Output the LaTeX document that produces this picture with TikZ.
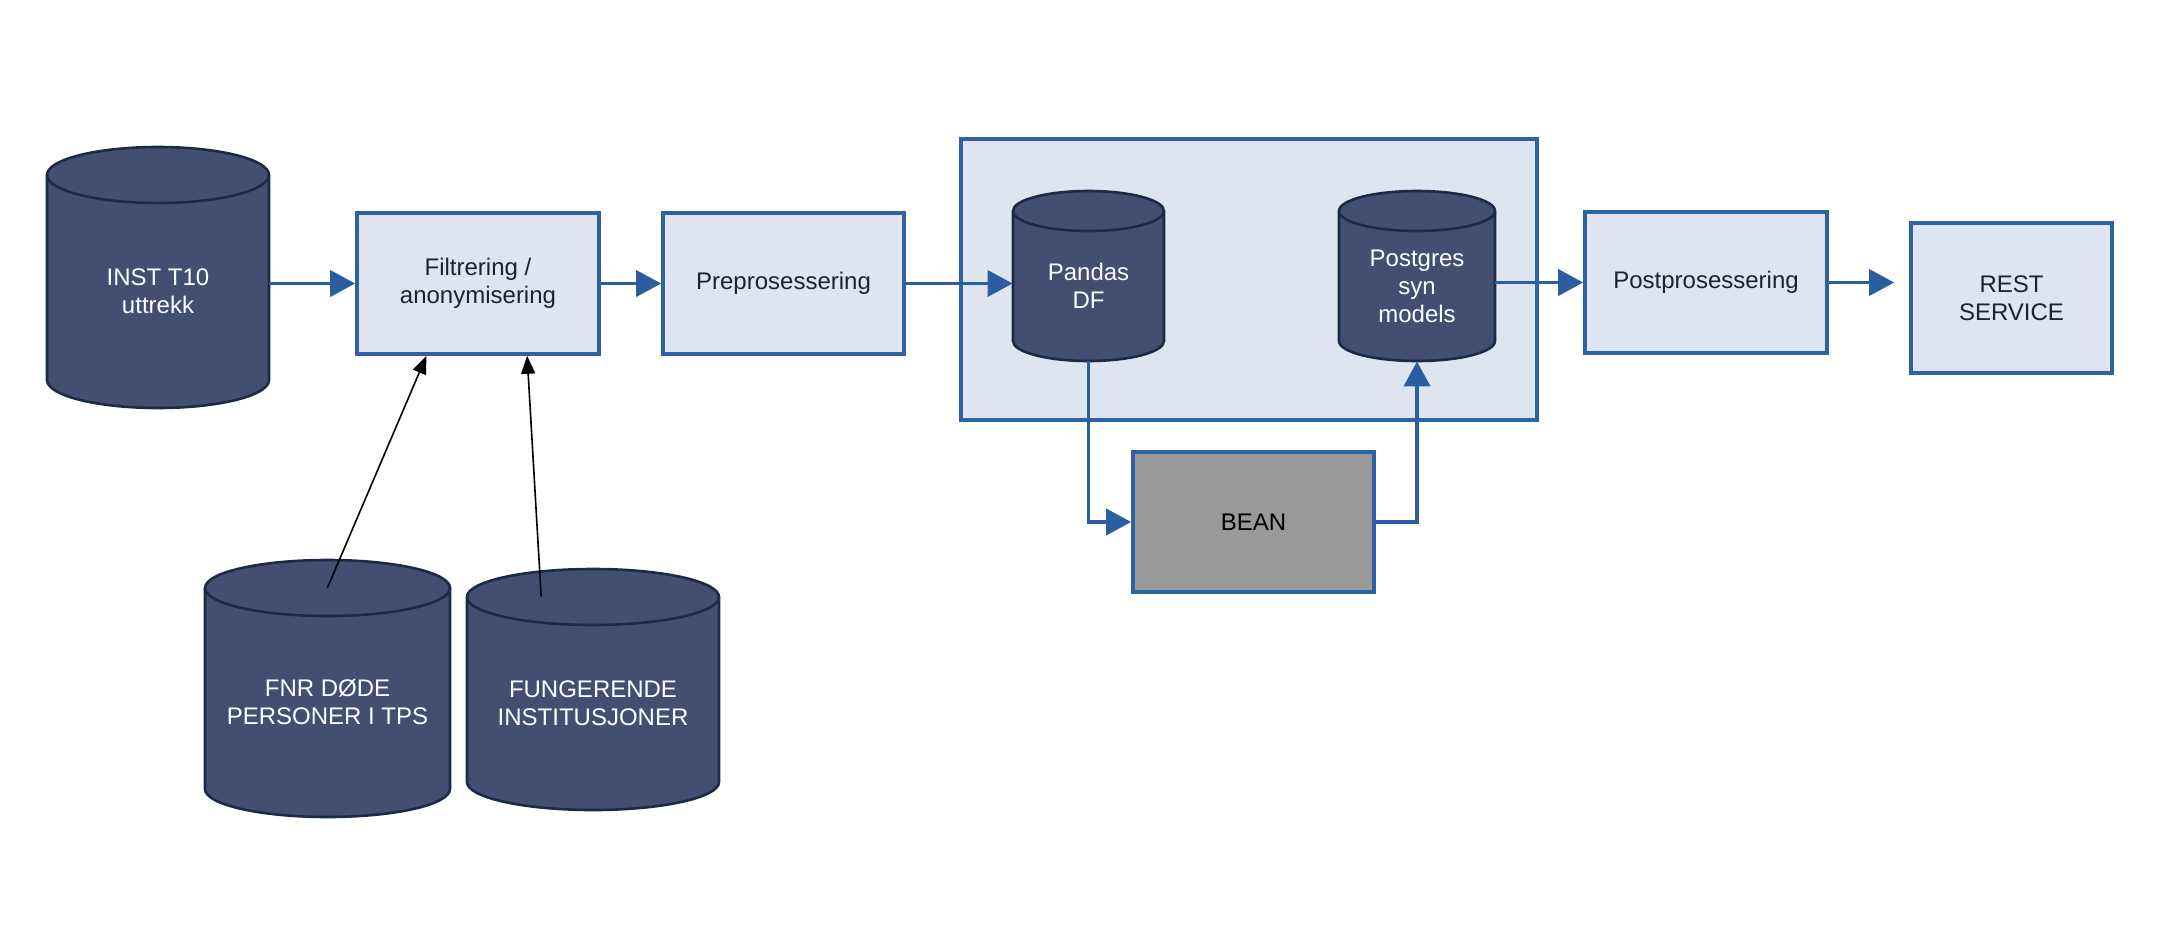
\documentclass[tikz,border=0pt]{standalone}
\usepackage{fontspec}
\setmainfont{Liberation Sans}
\usetikzlibrary{arrows.meta,calc}
\definecolor{cylfill}{HTML}{444E71}
\definecolor{cylline}{HTML}{1C2A45}
\definecolor{boxfill}{HTML}{DFE5F0}
\definecolor{boxblue}{HTML}{2F62A3}
\definecolor{arrblue}{HTML}{2B5E9E}
\definecolor{boxtext}{HTML}{1C2233}
\definecolor{beanfill}{HTML}{999999}
\tikzset{
  lbl/.style={font=\fontsize{12}{14}\selectfont, align=center},
  procbox/.style={lbl, draw=boxblue, fill=boxfill, line width=1.8pt, inner sep=0pt, text=boxtext},
  cylshape/.style={fill=cylfill, draw=cylline, line width=1.3pt},
  cyltext/.style={lbl, inner sep=0pt, text=white},
  flow/.style={draw=arrblue, line width=1.9pt, -{Triangle[length=12.5pt,width=13pt]}},
  feed/.style={draw=black, line width=0.8pt, -{Triangle[length=9pt,width=7pt]}}
}
\newcommand\dbcyl[7]{%
  \pgfmathsetmacro\cylw{(#4-#2)*0.5}%
  \pgfmathsetmacro\cylh{(#5-#3-#6)*0.5}%
  \pgfmathsetmacro\cylcx{(#2+#4)/2}%
  \pgfmathsetmacro\cylcy{(#3+#6+#5)/2}%
  \pgfmathsetmacro\cylrx{(#4-#2)/2}%
  \path[cylshape] (#2,#3+#6) -- (#2,#5-#6)
     arc[start angle=180,end angle=0,x radius=\cylrx,y radius=#6]
     -- (#4,#3+#6)
     arc[start angle=0,end angle=-180,x radius=\cylrx,y radius=#6] -- cycle;
  \draw[draw=cylline, line width=1.3pt] (#2,#3+#6)
     arc[start angle=180,end angle=0,x radius=\cylrx,y radius=#6];
  \node[cyltext, minimum width=\cylw pt, minimum height=\cylh pt] (#1) at (\cylcx,\cylcy) {#7};
}
\begin{document}
\begin{tikzpicture}[x=0.5pt,y=-0.5pt]
\useasboundingbox (0,0) rectangle (2162,926);
% container
\node[procbox, minimum width=288pt, minimum height=140.5pt] (cont) at (1249,279.5) {};
% cylinders
\dbcyl{inst}{47}{147}{269}{408}{28}{INST T10\\uttrekk}
\dbcyl{fnr}{205}{560}{450}{817}{28}{FNR DØDE\\PERSONER I TPS}
\dbcyl{fung}{467}{569}{719}{810}{28}{FUNGERENDE\\INSTITUSJONER}
\dbcyl{pandas}{1013}{191}{1164}{361}{20}{Pandas\\DF}
\dbcyl{postgres}{1339}{191}{1495}{361}{20}{Postgres\\syn\\models}
% boxes
\node[procbox, minimum width=121pt, minimum height=70.5pt] (filt) at (478,283.5) {Filtrering /\\anonymisering};
\node[procbox, minimum width=120.5pt, minimum height=70.5pt] (prepro) at (783.5,283.5) {Preprosessering};
\node[procbox, minimum width=121pt, minimum height=70.5pt] (postpro) at (1706,282.5) {Postprosessering};
\node[procbox, minimum width=100.5pt, minimum height=75pt] (rest) at (2011.5,298) {REST\\SERVICE};
\node[procbox, fill=beanfill, text=black, minimum width=120.5pt, minimum height=70pt] (bean) at (1253.5,522) {BEAN};
% connectors
\draw[flow] (inst.east |- filt.west) -- (filt.west);
\draw[flow] (filt.east) -- (prepro.west);
\draw[flow] (prepro.east) -- (pandas.west |- prepro.east);
\draw[flow] (pandas.south) |- (bean.west);
\draw[flow] (bean.east) -| (postgres.south);
\draw[flow] (postgres.east |- postpro.west) -- (postpro.west);
\draw[flow, shorten >=7.5pt] (postpro.east) -- (rest.west |- postpro.east);
\draw[feed] (fnr.north) -- ($(filt.south west)!0.29!(filt.south east)$);
\draw[feed] ($(fung.north west)!0.295!(fung.north east)$) -- ($(filt.south west)!0.70!(filt.south east)$);
\end{tikzpicture}
\end{document}
